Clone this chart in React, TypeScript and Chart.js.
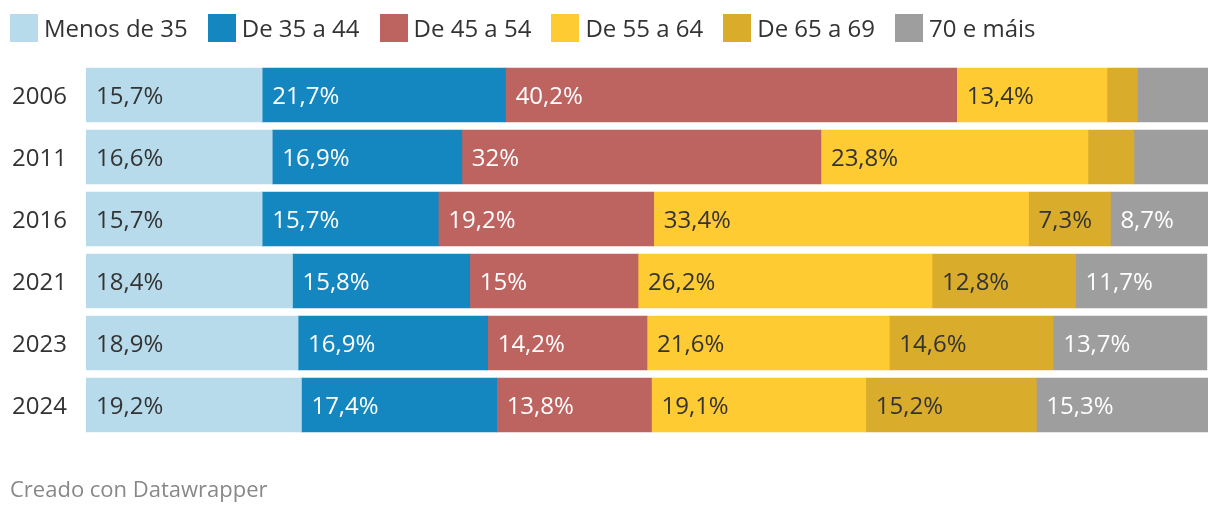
import React, { useEffect, useRef } from "react";
import { Chart, registerables } from "chart.js";

Chart.register(...registerables);

const years = ["2006", "2011", "2016", "2021", "2023", "2024"];
const seriesNames = ["Menos de 35", "De 35 a 44", "De 45 a 54", "De 55 a 64", "De 65 a 69", "70 e máis"];
const menos35 = [15.7, 16.6, 15.7, 18.4, 18.9, 19.2];
const de35a44 = [21.7, 16.9, 15.7, 15.8, 16.9, 17.4];
const de45a54 = [40.2, 32, 19.2, 15, 14.2, 13.8];
const de55a64 = [13.4, 23.8, 33.4, 26.2, 21.6, 19.1];
const de65a69 = [2.7, 4.1, 7.3, 12.8, 14.6, 15.2];
const maisDe70 = [6.3, 6.6, 8.7, 11.7, 13.7, 15.3];

const seriesValues = [menos35, de35a44, de45a54, de55a64, de65a69, maisDe70];
const colors = ["#b7dbeb", "#1587c0", "#bd6461", "#fecb33", "#d9ad2b", "#9e9e9e"];
const labelColors = ["#333333", "#ffffff", "#ffffff", "#333333", "#333333", "#ffffff"];
const FONT = "'Open Sans', 'Noto Sans', sans-serif";

const fmt = (v: number) => String(v).replace(".", ",") + "%";

const labelPlugin = {
  id: "segLabels",
  afterDatasetsDraw(chart: any) {
    const ctx = chart.ctx;
    ctx.save();
    ctx.font = `24px ${FONT}`;
    ctx.textBaseline = "middle";
    ctx.textAlign = "left";
    chart.data.datasets.forEach((ds: any, di: number) => {
      const meta = chart.getDatasetMeta(di);
      meta.data.forEach((bar: any, i: number) => {
        const v = ds.data[i];
        if (v < 7) return;
        const left = Math.min(bar.x, bar.base);
        ctx.fillStyle = labelColors[di];
        ctx.fillText(fmt(v), left + 10, bar.y + 2);
      });
    });
    ctx.restore();
  },
};

export default function App() {
  const ref = useRef<HTMLCanvasElement | null>(null);
  useEffect(() => {
    if (!ref.current) return;
    const chart = new Chart(ref.current, {
      type: "bar",
      data: {
        labels: years,
        datasets: seriesNames.map((name, i) => ({
          label: name,
          data: seriesValues[i],
          backgroundColor: colors[i],
          borderWidth: 0,
          barThickness: 54,
        })),
      },
      options: {
        indexAxis: "y",
        responsive: false,
        animation: false,
        layout: { padding: { top: 64, bottom: 78, right: 12, left: 0 } },
        plugins: { legend: { display: false }, tooltip: { enabled: false } },
        scales: {
          x: { stacked: true, min: 0, max: 100, display: false },
          y: {
            stacked: true,
            grid: { display: false, drawTicks: false },
            border: { display: false },
            ticks: { color: "#333333", font: { family: FONT, size: 24 }, padding: 19, labelOffset: 2 },
            afterFit: (s: any) => { s.width = 86; },
          },
        },
      },
      plugins: [labelPlugin],
    } as any);
    return () => chart.destroy();
  }, []);

  return (
    <div style={{ position: "fixed", left: 0, top: 0, width: 1220, height: 514, background: "#fff", fontFamily: FONT }}>
      <canvas ref={ref} width={1220} height={514} style={{ position: "absolute", left: 0, top: 0 }} />
      <div style={{ position: "absolute", left: 10, top: 14, display: "flex", alignItems: "center", height: 28 }}>
        {seriesNames.map((n, i) => (
          <div key={n} style={{ display: "flex", alignItems: "center", marginRight: 20 }}>
            <div style={{ width: 28, height: 28, background: colors[i], marginRight: 6 }} />
            <span style={{ fontSize: 24, color: "#333333", lineHeight: "28px" }}>{n}</span>
          </div>
        ))}
      </div>
      <div style={{ position: "absolute", left: 10, top: 474, fontSize: 22, color: "#888888", lineHeight: "28px" }}>
        Creado con Datawrapper
      </div>
    </div>
  );
}
